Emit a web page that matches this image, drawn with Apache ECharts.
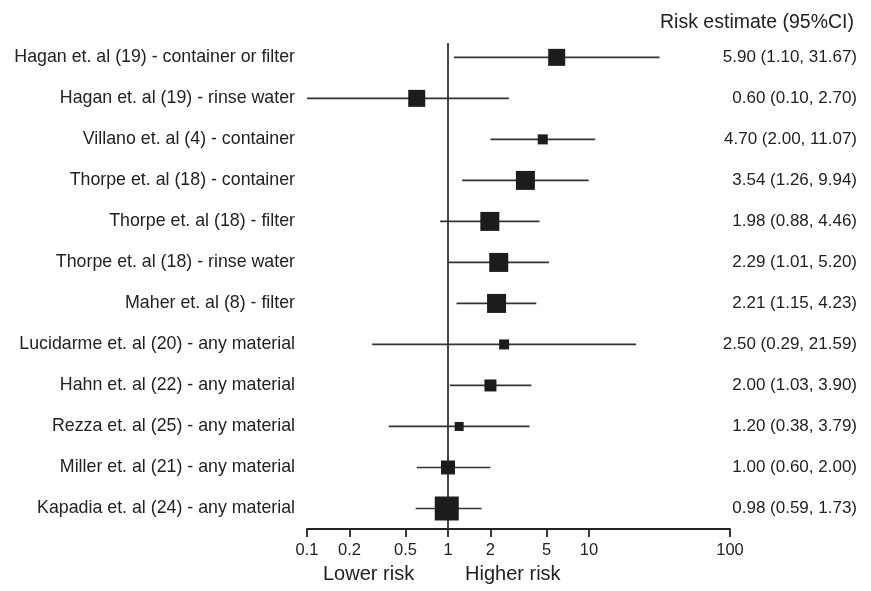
<!DOCTYPE html>
<html>
<head>
<meta charset="utf-8">
<script src="https://cdn.jsdelivr.net/npm/echarts@6/dist/echarts.min.js"></script>
<style>html,body{margin:0;padding:0;background:#fff}#c{width:871px;height:591px}</style>
</head>
<body>
<div id="c"></div>
<script>
var studies = [
  'Hagan et. al (19) - container or filter',
  'Hagan et. al (19) - rinse water',
  'Villano et. al (4) - container',
  'Thorpe et. al (18) - container',
  'Thorpe et. al (18) - filter',
  'Thorpe et. al (18) - rinse water',
  'Maher et. al (8) - filter',
  'Lucidarme et. al (20) - any material',
  'Hahn et. al (22) - any material',
  'Rezza et. al (25) - any material',
  'Miller et. al (21) - any material',
  'Kapadia et. al (24) - any material'
];
var estimate = [5.90, 0.60, 4.70, 3.54, 1.98, 2.29, 2.21, 2.50, 2.00, 1.20, 1.00, 0.98];
var lower    = [1.10, 0.10, 2.00, 1.26, 0.88, 1.01, 1.15, 0.29, 1.03, 0.38, 0.60, 0.59];
var upper    = [31.67, 2.70, 11.07, 9.94, 4.46, 5.20, 4.23, 21.59, 3.90, 3.79, 2.00, 1.73];
var weights  = [17, 17, 10, 19, 19, 19, 19, 10, 12, 9, 14, 24];
var xTicks   = [0.1, 0.2, 0.5, 1, 2, 5, 10, 100];
var refValue = 1;

var FONT = '"Liberation Sans", Arial, Helvetica, sans-serif';
var TXT = '#222';
var rows = studies.map(function (s, i) { return i; });
var ciText = estimate.map(function (e, i) {
  return e.toFixed(2) + ' (' + lower[i].toFixed(2) + ', ' + upper[i].toFixed(2) + ')';
});

var chart = echarts.init(document.getElementById('c'));
chart.setOption({
  animation: false,
  backgroundColor: '#fff',
  grid: { left: 307, right: 141, top: 43, bottom: 62, containLabel: false },
  title: {
    text: 'Risk estimate (95%CI)', right: 12, top: 8,
    textStyle: { fontFamily: FONT, fontSize: 19.5, fontWeight: 'normal', color: TXT }
  },
  graphic: [
    { type: 'text', left: 323, top: 564, style: { text: 'Lower risk', font: '20px ' + FONT, fill: TXT } },
    { type: 'text', left: 465, top: 564, style: { text: 'Higher risk', font: '20px ' + FONT, fill: TXT } }
  ],
  xAxis: {
    type: 'log', logBase: 10, min: 0.1, max: 100,
    axisLine: { show: true, onZero: false, lineStyle: { color: '#222', width: 1.8 } },
    axisTick: { show: true, length: 8, lineStyle: { color: '#222', width: 1.8 }, customValues: xTicks },
    axisLabel: {
      customValues: xTicks, margin: 13, color: TXT, fontSize: 16.5, fontFamily: FONT,
      formatter: function (v) { return String(+v.toPrecision(3)); }
    },
    splitLine: { show: false },
    minorTick: { show: false }
  },
  yAxis: [
    {
      type: 'value', inverse: true, min: -0.35, max: 11.5, position: 'left',
      axisLine: { show: false }, axisTick: { show: false }, splitLine: { show: false },
      axisLabel: {
        customValues: rows, margin: 12, color: TXT, fontSize: 17.8, fontFamily: FONT,
        formatter: function (v) { return studies[Math.round(v)] || ''; }
      }
    },
    {
      type: 'value', inverse: true, min: -0.35, max: 11.5, position: 'right',
      axisLine: { show: false }, axisTick: { show: false }, splitLine: { show: false },
      axisLabel: {
        customValues: rows, margin: 127, align: 'right', color: TXT, fontSize: 17, fontFamily: FONT,
        formatter: function (v) { return ciText[Math.round(v)] || ''; }
      }
    }
  ],
  series: [
    {
      type: 'line', yAxisIndex: 0, symbol: 'none', silent: true,
      data: [[refValue, -0.35], [refValue, 11.5]],
      lineStyle: { color: '#333', width: 1.8 }, z: 1
    },
    {
      type: 'custom', yAxisIndex: 0, silent: true, z: 2,
      data: rows.map(function (i) { return [lower[i], upper[i], i]; }),
      encode: { x: [0, 1], y: 2 },
      renderItem: function (params, api) {
        var p1 = api.coord([api.value(0), api.value(2)]);
        var p2 = api.coord([api.value(1), api.value(2)]);
        return {
          type: 'line',
          shape: { x1: p1[0], y1: p1[1], x2: p2[0], y2: p2[1] },
          style: { stroke: '#333', lineWidth: 1.7 }
        };
      }
    },
    {
      type: 'scatter', yAxisIndex: 0, symbol: 'rect', silent: true, z: 3,
      data: rows.map(function (i) { return [estimate[i], i, weights[i]]; }),
      symbolSize: function (d) { return d[2]; },
      itemStyle: { color: '#1c1c1c', opacity: 1 }
    }
  ]
});
</script>
</body>
</html>
